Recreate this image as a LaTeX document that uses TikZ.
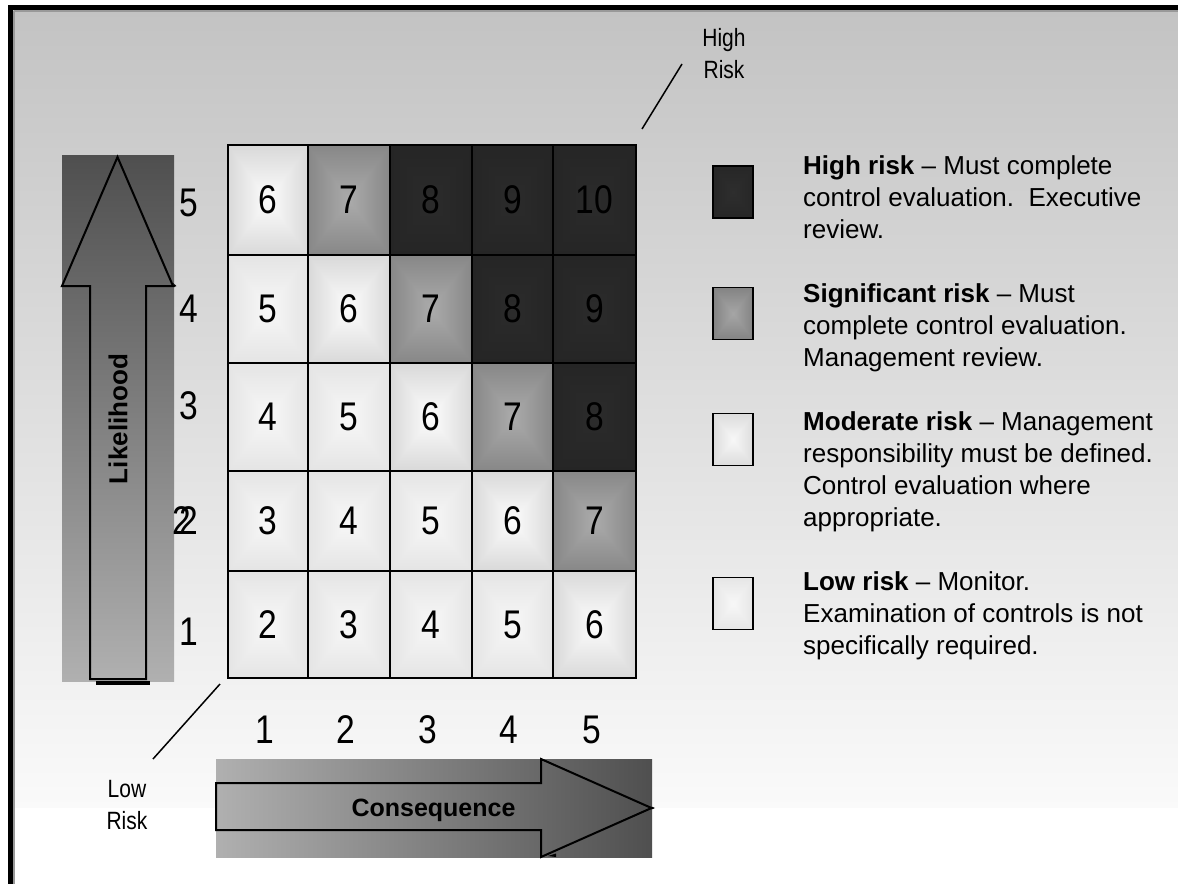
\documentclass[tikz,border=0pt]{standalone}
\usepackage{fontspec}
\setmainfont{Liberation Sans}
\newfontfamily\numfont[FakeStretch=0.84]{Liberation Sans}

% Box ("from centre") gradients: value = centre + (edge-centre) * t,
% t = max(|x|,|y|)/50 over the shading square.
\pgfdeclarefunctionalshading{lowsh}{\pgfpoint{-50bp}{-50bp}}{\pgfpoint{50bp}{50bp}}{}{abs exch abs 2 copy lt {exch} if pop 50 div -0.15 mul 0.97 add dup dup}
\pgfdeclarefunctionalshading{modsh}{\pgfpoint{-50bp}{-50bp}}{\pgfpoint{50bp}{50bp}}{}{abs exch abs 2 copy lt {exch} if pop 50 div -0.28 mul 0.99 add dup dup}
\pgfdeclarefunctionalshading{sigsh}{\pgfpoint{-50bp}{-50bp}}{\pgfpoint{50bp}{50bp}}{}{abs exch abs 2 copy lt {exch} if pop 50 div -0.28 mul 0.67 add dup dup}
\pgfdeclarefunctionalshading{highsh}{\pgfpoint{-50bp}{-50bp}}{\pgfpoint{50bp}{50bp}}{}{abs exch abs 2 copy lt {exch} if pop 50 div -0.05 mul 0.17 add dup dup}
\pgfdeclarefunctionalshading{keyhighsh}{\pgfpoint{-50bp}{-50bp}}{\pgfpoint{50bp}{50bp}}{}{abs exch abs 2 copy lt {exch} if pop 50 div -0.06 mul 0.18 add dup dup}
\pgfdeclarefunctionalshading{keysigsh}{\pgfpoint{-50bp}{-50bp}}{\pgfpoint{50bp}{50bp}}{}{abs exch abs 2 copy lt {exch} if pop 50 div -0.27 mul 0.65 add dup dup}
\pgfdeclarefunctionalshading{keymodsh}{\pgfpoint{-50bp}{-50bp}}{\pgfpoint{50bp}{50bp}}{}{abs exch abs 2 copy lt {exch} if pop 50 div -0.21 mul 0.97 add dup dup}
\pgfdeclarefunctionalshading{keylowsh}{\pgfpoint{-50bp}{-50bp}}{\pgfpoint{50bp}{50bp}}{}{abs exch abs 2 copy lt {exch} if pop 50 div -0.14 mul 0.97 add dup dup}

\definecolor{bgtop}{gray}{0.765}
\definecolor{bgbot}{gray}{0.98}
\definecolor{arrdark}{gray}{0.31}
\definecolor{arrlight}{gray}{0.69}

\tikzset{
  cell/.style={draw=black, line width=2bp, inner sep=0pt, text=black,
    font=\numfont\fontsize{40bp}{40bp}\selectfont},
  axisnum/.style={inner sep=0pt, font=\numfont\fontsize{40bp}{40bp}\selectfont},
  riskend/.style={inner sep=0pt, align=center,
    font=\numfont\fontsize{25bp}{32bp}\selectfont},
  keybox/.style={draw=black, line width=1.5bp, inner sep=0pt,
    minimum width=40bp, minimum height=52bp},
  keytext/.style={inner sep=0pt, anchor=north west, align=left,
    font=\fontsize{26bp}{32bp}\selectfont},
  outline/.style={draw=black, line width=2bp, line join=miter},
  pointer/.style={draw=black, line width=1.5bp},
}

\begin{document}
\begin{tikzpicture}[x=1bp, y=-1bp]
\useasboundingbox (0,0) rectangle (1178,884);
\fill[white] (0,0) rectangle (1178,884);

% page background and frame
\shade[top color=bgtop, bottom color=bgbot] (13,10) rectangle (1178,807);
\fill[black] (8,5) rectangle (1178,10);
\fill[black] (8,5) rectangle (13,884);
\draw[gray!80, line width=1.5bp] (13.75,11) -- (1178,11);
\draw[gray!80, line width=1.5bp] (13.75,11) -- (13.75,884);

% likelihood arrow
\shade[top color=arrdark, bottom color=arrlight] (62,155) rectangle (174,681);
\draw[outline] (90,679) -- (90,286) -- (62,286) -- (117.5,157) -- (173,286)
  -- (146,286) -- (146,679) -- cycle;
\fill[black] (96,681) rectangle (150,684.5);
\fill[black] (173,283) -- (176.5,286) -- (174,287) -- cycle;
\node[rotate=90, inner sep=0pt, font=\bfseries\fontsize{26bp}{26bp}\selectfont]
  (likelihood) at (118,419) {Likelihood};

% consequence arrow
\shade[left color=arrlight, right color=arrdark] (216,759) rectangle (652,857);
\draw[outline] (216,783) -- (541,783) -- (541,759) -- (651.5,808) -- (541,857)
  -- (541,830) -- (216,830) -- cycle;
\fill[black] (651.5,806.5) -- (655,808) -- (651.5,809.5) -- cycle;
\fill[black] (548,856) -- (556,853.5) -- (556,857) -- cycle;
\node[inner sep=0pt, font=\bfseries\fontsize{25bp}{25bp}\selectfont]
  (consequence) at (433.5,810) {Consequence};

% risk matrix
\foreach \r/\yt/\yb in {5/145/255, 4/255/363, 3/363/471, 2/471/571, 1/571/678} {
  \foreach \c/\xl/\xr in {1/228/308, 2/308/390, 3/390/472, 4/472/553, 5/553/636} {
    \pgfmathtruncatemacro\v{\r+\c}
    \ifnum\v<6 \def\sh{lowsh}\else
      \ifnum\v=6 \def\sh{modsh}\else
        \ifnum\v=7 \def\sh{sigsh}\else \def\sh{highsh}\fi\fi\fi
    \node[cell, shading=\sh, minimum width={(\xr-\xl)*1bp},
      minimum height={(\yb-\yt)*1bp}] (cell-\r-\c)
      at ({(\xl+\xr)/2},{(\yt+\yb)/2}) {\v};
  }
}

% likelihood scale
\node[axisnum] (lik5) at (189,203) {5};
\node[axisnum] (lik4) at (189,309) {4};
\node[axisnum] (lik3) at (189,406) {3};
\node[axisnum] (lik2a) at (182,521) {2};
\node[axisnum] (lik2b) at (189,521) {2};
\node[axisnum] (lik1) at (189,632) {1};

% consequence scale
\node[axisnum] (con1) at (265,730) {1};
\node[axisnum] (con2) at (346,730) {2};
\node[axisnum] (con3) at (428,730) {3};
\node[axisnum] (con4) at (509,730) {4};
\node[axisnum] (con5) at (592,730) {5};

% corner markers
\node[riskend] (highrisk) at (724,54) {High\\Risk};
\coordinate (hr-top) at (682,64);
\coordinate (hr-grid) at (642,129);
\draw[pointer] (hr-top) -- (hr-grid);
\node[riskend] (lowrisk) at (127,805) {Low\\Risk};
\coordinate (lr-grid) at (220,684);
\coordinate (lr-bot) at (153,759);
\draw[pointer] (lr-grid) -- (lr-bot);

% legend
\node[keybox, shading=keyhighsh] (key-high) at (733,192) {};
\node[keybox, shading=keysigsh] (key-sig) at (733,313.5) {};
\node[keybox, shading=keymodsh] (key-mod) at (733,439.5) {};
\node[keybox, shading=keylowsh] (key-low) at (733,603.5) {};

\node[keytext] (txt-high) at (803,150) {\rule{0pt}{24bp}\textbf{High risk} -- Must complete\\
  control evaluation.\ \ Executive\\ review.};
\node[keytext] (txt-sig) at (803,278) {\rule{0pt}{24bp}\textbf{Significant risk} -- Must\\
  complete control evaluation.\\ Management review.};
\node[keytext] (txt-mod) at (803,406) {\rule{0pt}{24bp}\textbf{Moderate risk} -- Management\\
  responsibility must be defined.\\ Control evaluation where\\ appropriate.};
\node[keytext] (txt-low) at (803,566) {\rule{0pt}{24bp}\textbf{Low risk} -- Monitor.\\
  Examination of controls is not\\ specifically required.};
\end{tikzpicture}
\end{document}
